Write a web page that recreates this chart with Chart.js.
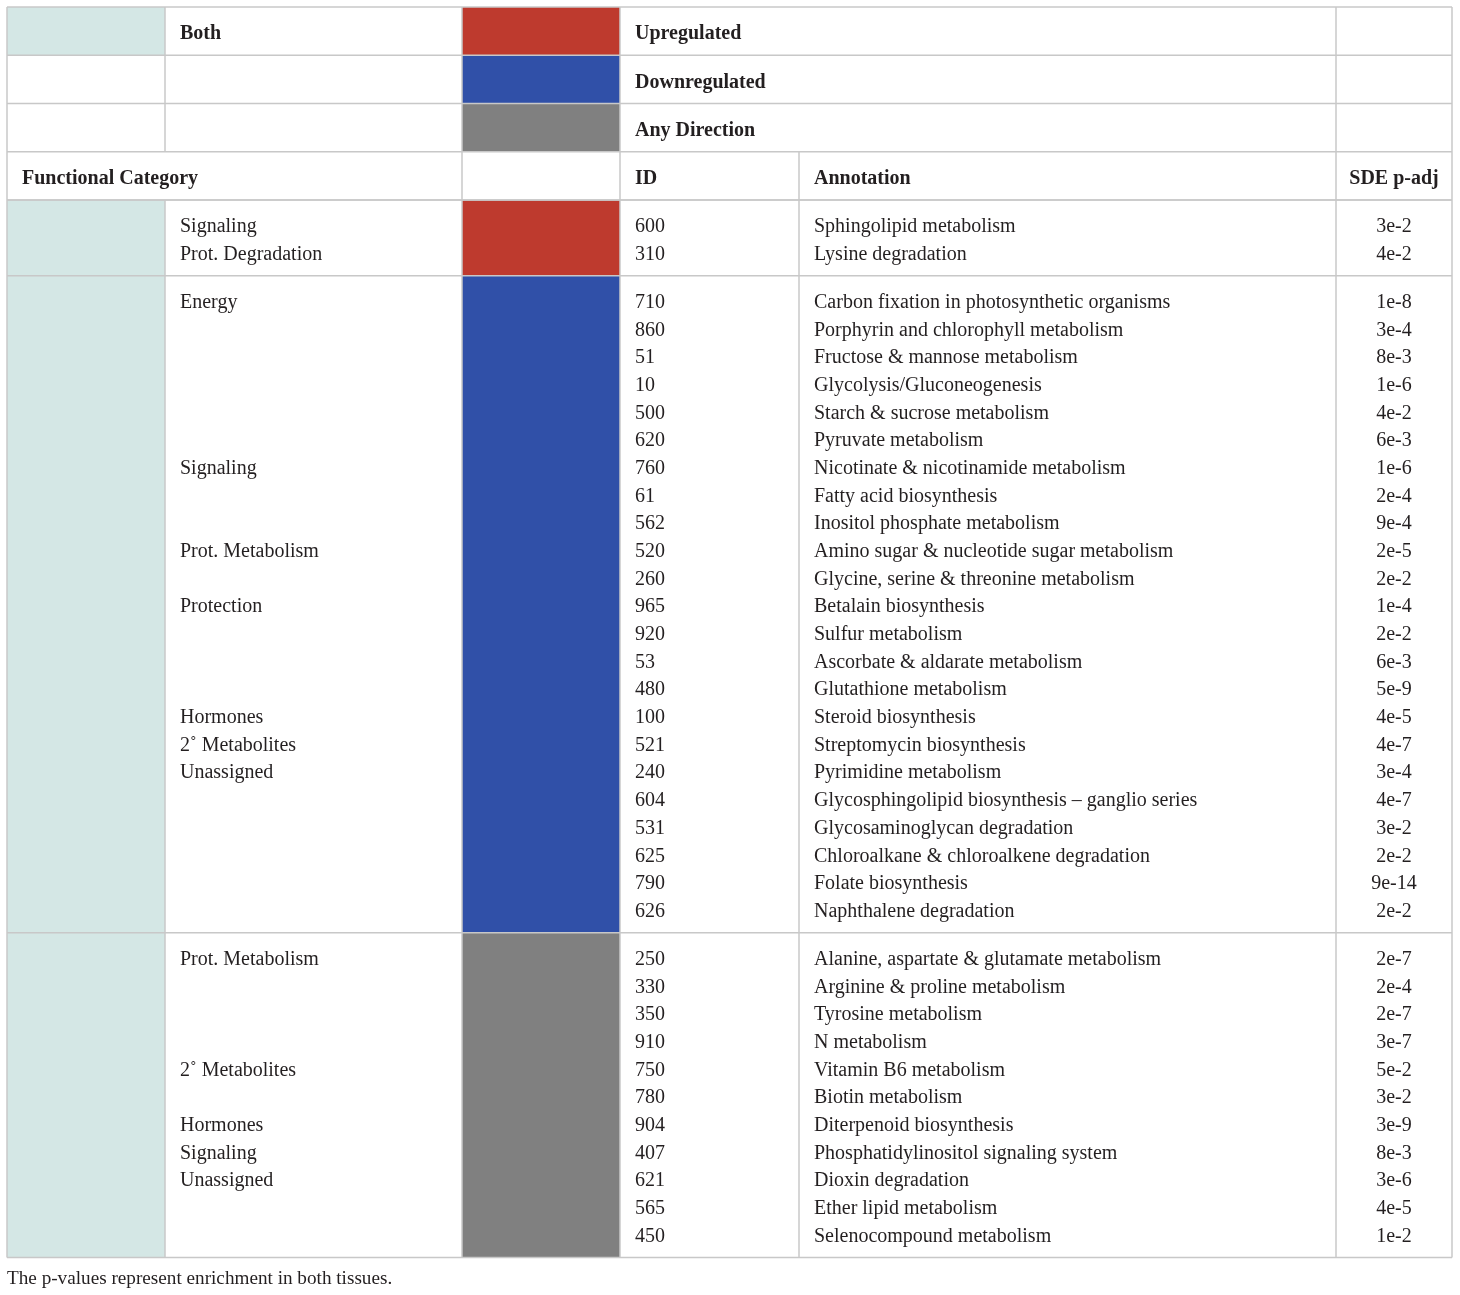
<!DOCTYPE html>
<html>
<head>
<meta charset="utf-8">
<script src="https://cdn.jsdelivr.net/npm/chart.js@4"></script>
<style>
html,body{margin:0;padding:0;background:#fff;}
#wrap{width:1460px;height:1295px;}
</style>
</head>
<body>
<div id="wrap"><canvas id="c" width="1460" height="1295"></canvas></div>
<script>
// ---------- DATA ----------
const bothLabel = 'Both';
const legendLabels = ['Upregulated', 'Downregulated', 'Any Direction'];
const headerLabels = ['Functional Category', 'ID', 'Annotation', 'SDE p-adj'];
const footnote = 'The p-values represent enrichment in both tissues.';

const upCategories = ['Signaling', 'Prot. Degradation'];
const upIds = ['600', '310'];
const upAnnotations = ['Sphingolipid metabolism', 'Lysine degradation'];
const upPadj = ['3e-2', '4e-2'];

const downCategories = ['Energy', '', '', '', '', '', 'Signaling', '', '', 'Prot. Metabolism', '', 'Protection', '', '', '', 'Hormones', '2˚ Metabolites', 'Unassigned', '', '', '', '', ''];
const downIds = ['710', '860', '51', '10', '500', '620', '760', '61', '562', '520', '260', '965', '920', '53', '480', '100', '521', '240', '604', '531', '625', '790', '626'];
const downAnnotations = [
  'Carbon fixation in photosynthetic organisms',
  'Porphyrin and chlorophyll metabolism',
  'Fructose & mannose metabolism',
  'Glycolysis/Gluconeogenesis',
  'Starch & sucrose metabolism',
  'Pyruvate metabolism',
  'Nicotinate & nicotinamide metabolism',
  'Fatty acid biosynthesis',
  'Inositol phosphate metabolism',
  'Amino sugar & nucleotide sugar metabolism',
  'Glycine, serine & threonine metabolism',
  'Betalain biosynthesis',
  'Sulfur metabolism',
  'Ascorbate & aldarate metabolism',
  'Glutathione metabolism',
  'Steroid biosynthesis',
  'Streptomycin biosynthesis',
  'Pyrimidine metabolism',
  'Glycosphingolipid biosynthesis – ganglio series',
  'Glycosaminoglycan degradation',
  'Chloroalkane & chloroalkene degradation',
  'Folate biosynthesis',
  'Naphthalene degradation'
];
const downPadj = ['1e-8', '3e-4', '8e-3', '1e-6', '4e-2', '6e-3', '1e-6', '2e-4', '9e-4', '2e-5', '2e-2', '1e-4', '2e-2', '6e-3', '5e-9', '4e-5', '4e-7', '3e-4', '4e-7', '3e-2', '2e-2', '9e-14', '2e-2'];

const anyCategories = ['Prot. Metabolism', '', '', '', '2˚ Metabolites', '', 'Hormones', 'Signaling', 'Unassigned', '', ''];
const anyIds = ['250', '330', '350', '910', '750', '780', '904', '407', '621', '565', '450'];
const anyAnnotations = [
  'Alanine, aspartate & glutamate metabolism',
  'Arginine & proline metabolism',
  'Tyrosine metabolism',
  'N metabolism',
  'Vitamin B6 metabolism',
  'Biotin metabolism',
  'Diterpenoid biosynthesis',
  'Phosphatidylinositol signaling system',
  'Dioxin degradation',
  'Ether lipid metabolism',
  'Selenocompound metabolism'
];
const anyPadj = ['2e-7', '2e-4', '2e-7', '3e-7', '5e-2', '3e-2', '3e-9', '8e-3', '3e-6', '4e-5', '1e-2'];

// ---------- STYLE / LAYOUT ----------
const COLORS = { up: '#BE3A2E', down: '#3050A8', any: '#808080', teal: '#D4E7E5', line: '#C8C8C8', text: '#231F20' };
const colEdges = [7, 165, 462, 620, 799, 1336, 1452];
const TOP = 7, HEAD_H = 48.25, ROW_H = 27.68, GROUP_PAD = 24;
const TEXT_DY = 3;
const FONT = '"Liberation Serif", "Times New Roman", serif';
const FS = 20;

const groups = [
  { color: COLORS.up, cats: upCategories, ids: upIds, ann: upAnnotations, p: upPadj },
  { color: COLORS.down, cats: downCategories, ids: downIds, ann: downAnnotations, p: downPadj },
  { color: COLORS.any, cats: anyCategories, ids: anyIds, ann: anyAnnotations, p: anyPadj }
];
const legendColors = [COLORS.up, COLORS.down, COLORS.any];

const tablePlugin = {
  id: 'tablePlugin',
  beforeDraw(chart) {
    const ctx = chart.ctx, xs = chart.scales.x, ys = chart.scales.y;
    const X = v => xs.getPixelForValue(v), Y = v => ys.getPixelForValue(v);
    const rect = (x0, y0, x1, y1, c) => { ctx.fillStyle = c; ctx.fillRect(X(x0), Y(y0), X(x1) - X(x0), Y(y1) - Y(y0)); };
    const hline = (x0, x1, y) => { ctx.beginPath(); ctx.moveTo(X(x0), Y(y)); ctx.lineTo(X(x1), Y(y)); ctx.stroke(); };
    const vline = (x, y0, y1) => { ctx.beginPath(); ctx.moveTo(X(x), Y(y0)); ctx.lineTo(X(x), Y(y1)); ctx.stroke(); };
    const text = (s, x, y, bold, align) => {
      ctx.font = (bold ? 'bold ' : '') + FS + 'px ' + FONT;
      ctx.fillStyle = COLORS.text; ctx.textAlign = align || 'left'; ctx.textBaseline = 'middle';
      ctx.fillText(s, X(x), Y(y + TEXT_DY));
    };
    const [c0, c1, c2, c3, c4, c5, c6] = colEdges;
    ctx.save();
    ctx.fillStyle = '#fff'; ctx.fillRect(0, 0, chart.width, chart.height);

    // header rows
    const hy = [0, 1, 2, 3, 4].map(i => TOP + i * HEAD_H);
    rect(c0, hy[0], c1, hy[1], COLORS.teal);
    legendColors.forEach((col, i) => rect(c2, hy[i], c3, hy[i + 1], col));

    // groups
    let y = hy[4];
    const bounds = [y];
    groups.forEach(g => {
      const h = 2 * GROUP_PAD + (g.ids.length - 1) * ROW_H;
      g.top = y; g.bottom = y + h;
      rect(c0, y, c1, y + h, COLORS.teal);
      rect(c2, y, c3, y + h, g.color);
      y += h; bounds.push(y);
    });
    const bottom = y;

    // grid lines
    ctx.strokeStyle = COLORS.line; ctx.lineWidth = 1.5;
    hy.forEach(v => hline(c0, c6, v));
    bounds.forEach(v => hline(c0, c6, v));
    vline(c0, TOP, bottom); vline(c6, TOP, bottom);
    vline(c1, TOP, hy[3]); vline(c1, hy[4], bottom);
    vline(c2, TOP, bottom); vline(c3, TOP, bottom);
    vline(c4, hy[3], bottom); vline(c5, TOP, bottom);

    // header text
    const pad = 15;
    text(bothLabel, c1 + pad, (hy[0] + hy[1]) / 2, true);
    legendLabels.forEach((s, i) => text(s, c3 + pad, (hy[i] + hy[i + 1]) / 2, true));
    const hm = (hy[3] + hy[4]) / 2;
    text(headerLabels[0], c0 + pad, hm, true);
    text(headerLabels[1], c3 + pad, hm, true);
    text(headerLabels[2], c4 + pad, hm, true);
    text(headerLabels[3], (c5 + c6) / 2, hm, true, 'center');

    // body text
    groups.forEach(g => {
      g.ids.forEach((id, i) => {
        const ry = g.top + GROUP_PAD + i * ROW_H;
        if (g.cats[i]) text(g.cats[i], c1 + pad, ry);
        text(id, c3 + pad, ry);
        text(g.ann[i], c4 + pad, ry);
        text(g.p[i], (c5 + c6) / 2, ry, false, 'center');
      });
    });

    // footnote
    ctx.font = '19.2px ' + FONT; ctx.fillStyle = COLORS.text; ctx.textAlign = 'left'; ctx.textBaseline = 'middle';
    ctx.fillText(footnote, X(c0), Y(bottom + 19 + TEXT_DY));
    ctx.restore();
  }
};

new Chart(document.getElementById('c'), {
  type: 'scatter',
  data: { datasets: [] },
  options: {
    responsive: false,
    animation: false,
    devicePixelRatio: 1,
    layout: { padding: 0 },
    plugins: { legend: { display: false }, tooltip: { enabled: false } },
    scales: {
      x: { type: 'linear', min: 0, max: 1460, display: false },
      y: { type: 'linear', min: 0, max: 1295, reverse: true, display: false }
    }
  },
  plugins: [tablePlugin]
});
</script>
</body>
</html>
